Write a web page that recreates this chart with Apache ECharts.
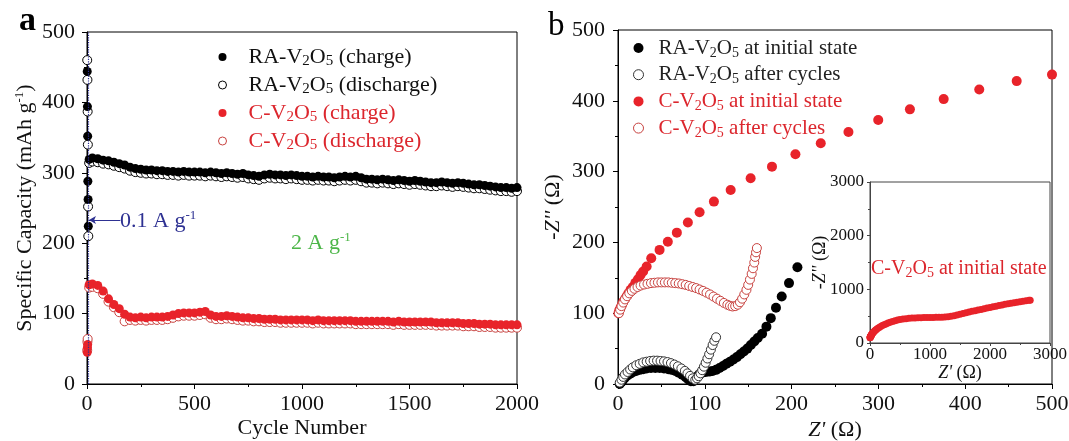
<!DOCTYPE html>
<html>
<head>
<meta charset="utf-8">
<script src="https://cdn.jsdelivr.net/npm/echarts@6/dist/echarts.min.js"></script>
<style>
  html, body { margin: 0; padding: 0; background: #fff; }
  #chart { width: 1069px; height: 441px; }
</style>
</head>
<body>
<div id="chart"></div>
<script>
// ---------- Panel a: cycling at 2 A g-1 (after 0.1 A g-1 activation) ----------
const cycleNumbers = [
  10, 25, 50, 75, 100, 125, 150, 175, 200, 225,
  250, 275, 300, 325, 350, 375, 400, 425, 450, 475,
  500, 525, 550, 575, 600, 625, 650, 675, 700, 725,
  750, 775, 800, 825, 850, 875, 900, 925, 950, 975,
  1000, 1025, 1050, 1075, 1100, 1125, 1150, 1175, 1200, 1225,
  1250, 1275, 1300, 1325, 1350, 1375, 1400, 1425, 1450, 1475,
  1500, 1525, 1550, 1575, 1600, 1625, 1650, 1675, 1700, 1725,
  1750, 1775, 1800, 1825, 1850, 1875, 1900, 1925, 1950, 1975,
  2000
];
const raCharge = [
  319, 321, 320, 318, 317, 315, 313, 311, 308, 306,
  305, 304, 304, 303, 303, 302, 302, 301, 302, 301,
  301, 301, 300, 301, 300, 299, 300, 299, 298, 299,
  297, 296, 295, 297, 298, 297, 297, 296, 297, 296,
  295, 295, 294, 295, 294, 294, 293, 294, 295, 294,
  295, 293, 291, 291, 290, 291, 290, 289, 290, 289,
  288, 289, 288, 287, 286, 286, 287, 286, 285, 286,
  285, 284, 283, 283, 282, 281, 280, 279, 279, 278,
  279
];
const raDischarge = [
  314, 316, 315, 313, 312, 310, 308, 306, 303, 301,
  300, 299, 299, 298, 298, 297, 297, 296, 297, 296,
  296, 296, 295, 296, 295, 294, 295, 294, 293, 294,
  292, 291, 290, 292, 293, 292, 292, 291, 292, 291,
  290, 290, 289, 290, 289, 289, 288, 289, 290, 289,
  290, 288, 286, 286, 285, 286, 285, 284, 285, 284,
  283, 284, 283, 282, 281, 281, 282, 281, 280, 281,
  280, 279, 278, 278, 277, 276, 275, 274, 274, 273,
  274
];
const cCharge = [
  141, 142, 140, 132, 121, 113, 107, 99, 95, 94,
  95, 94, 95, 95, 95, 96, 98, 100, 101, 101,
  101, 102, 103, 98, 96, 96, 97, 96, 95, 94,
  94, 93, 93, 92, 92, 92, 91, 91, 91, 91,
  91, 91, 90, 91, 90, 90, 90, 90, 90, 90,
  89, 89, 89, 89, 89, 89, 89, 88, 89, 88,
  88, 88, 88, 88, 88, 87, 87, 87, 87, 87,
  86, 86, 86, 85, 85, 85, 84, 84, 84, 84,
  84
];
const cDischarge = [
  137, 138, 136, 128, 117, 109, 102, 89, 91, 90,
  91, 90, 91, 91, 91, 92, 94, 96, 97, 97,
  97, 98, 99, 94, 92, 92, 93, 92, 91, 90,
  90, 89, 89, 88, 88, 88, 87, 87, 87, 87,
  87, 87, 86, 87, 86, 86, 86, 86, 86, 86,
  85, 85, 85, 85, 85, 85, 85, 84, 85, 84,
  84, 84, 84, 84, 84, 83, 83, 83, 83, 83,
  82, 82, 82, 81, 81, 81, 80, 80, 80, 80,
  80
];
// first cycles at 0.1 A g-1
const activationCycles = [1, 2, 3, 4, 5, 6];
const raChargeActivation = [444, 394, 352, 288, 262, 224];
const raDischargeActivation = [460, 432, 387, 340, 252, 210];
const cChargeActivation = [45, 52, 56];
const cDischargeActivation = [48, 60, 64];

// ---------- Panel b: Nyquist plots (Z', -Z'') ----------
const raInitial = [
  [2, 0], [4, 3], [6, 6], [8, 9], [11, 12], [14, 14.5], [17, 16.5], [21, 18.5], [25, 20], [29, 21],
  [33, 22], [38, 22.5], [43, 22.5], [48, 22.5], [53, 22], [58, 21], [62, 20], [66, 18.5], [70, 16], [74, 13],
  [78, 9.5], [81, 6.5], [84, 4], [87, 4], [89, 7], [91, 10.5], [94, 14], [97, 16], [101, 17], [105, 17.5],
  [109, 18.5], [113, 20], [117, 22.5], [121, 25.5], [125, 28.5], [129, 31.5], [133, 34.5], [137, 38], [141, 42], [145, 46],
  [149, 50], [153, 55], [157, 60], [161, 65], [166, 71], [171, 81], [176, 93], [182, 107.6], [188.6, 123.6], [197, 142.5],
  [206.7, 165]
];
const raAfter = [
  [2, 2], [4, 6], [6, 10], [8, 13.5], [11, 17], [14, 20.5], [17, 23.5], [21, 26.5], [25, 28.5], [29, 30.5],
  [33, 31.5], [37, 32.5], [41, 33], [45, 33], [49, 32.5], [53, 32], [57, 31], [61, 29.5], [65, 27.5], [69, 25],
  [73, 22], [77, 18.5], [80, 15], [83, 11.5], [86, 8], [89, 6], [91, 8], [93, 11], [95, 15], [97, 19.5],
  [99, 24.5], [101, 30], [103, 36], [105, 42], [107, 48.5], [109, 55], [111, 61], [113, 66]
];
const cInitial = [
  [0.5, 100], [1.5, 104], [3, 108], [4.5, 112], [6, 116], [8, 120], [10, 124], [12, 128], [14.5, 133], [17, 137],
  [20, 143], [23, 148], [26, 154], [29, 159], [33, 166], [38.3, 177.7], [47.9, 189.4], [57.4, 201], [67.8, 213.8], [80.5, 228],
  [94, 242.6], [110.5, 257.6], [129.8, 274], [152.8, 290.6], [177.4, 307], [204.4, 324.4], [233.6, 340], [265.5, 356], [299.8, 372.8], [336.3, 387.9],
  [375.2, 402.4], [416.2, 416], [459.3, 427.8],
  [500, 437], [550, 446], [600, 453], [650, 459], [700, 464], [750, 467], [800, 470], [850, 472], [900, 474], [950, 475],
  [1000, 476], [1050, 477], [1100, 478], [1150, 479], [1200, 481], [1250, 484], [1300, 489], [1350, 498], [1400, 510], [1450, 523],
  [1500, 537], [1550, 551], [1600, 564], [1650, 577], [1700, 590], [1750, 602], [1800, 614], [1850, 626], [1900, 638], [1950, 650],
  [2000, 662], [2050, 674], [2100, 686], [2150, 698], [2200, 709], [2250, 720], [2300, 731], [2350, 741], [2400, 751], [2450, 761],
  [2500, 770], [2550, 779], [2600, 787], [2650, 795], [2670, 798]
];
const cAfter = [
  [1, 100], [2.5, 105], [4, 110], [6, 115], [8, 119.5], [10.5, 124], [13, 128], [16, 131.5], [19, 134.5], [22.5, 137],
  [26, 139], [30, 140.5], [34, 141.5], [38, 142.5], [42, 143], [46, 143.5], [50, 143.5], [54, 143.5], [58, 143.5], [62, 143],
  [66, 142.5], [70, 142], [74, 141], [78, 140], [82, 138.5], [86, 137], [90, 135.5], [94, 133.5], [98, 131.5], [102, 129],
  [106, 126.5], [110, 123.5], [114, 120.5], [118, 117.5], [122, 114.5], [126, 112], [129, 110.5], [132, 109.5], [135, 110], [138, 112],
  [140.5, 115.5], [143, 120.5], [145.5, 126.5], [148, 133], [150, 140], [152, 147.5], [154, 155.5], [155.5, 163.5], [157, 171.5], [158, 179.5],
  [159, 186], [160, 192]
];

// ---------- styling ----------
const FONT = 'Liberation Serif';
const INK = '#111';
const RED = '#e8232a';
const RED_OPEN = '#c8423f';
const RED_TEXT = '#dc262d';
const BLUE = '#2e3192';
const GREEN = '#4cb648';

function pairs(xs, ys) { return xs.map((x, i) => [x, ys[i]]); }

const raChargeData = pairs(activationCycles, raChargeActivation).concat(pairs(cycleNumbers, raCharge));
const raDischargeData = pairs(activationCycles, raDischargeActivation).concat(pairs(cycleNumbers, raDischarge));
const cChargeData = pairs(activationCycles.slice(0, 3), cChargeActivation).concat(pairs(cycleNumbers, cCharge));
const cDischargeData = pairs(activationCycles.slice(0, 3), cDischargeActivation).concat(pairs(cycleNumbers, cDischarge));

function richSet(size) {
  const sub = Math.round(size * 0.68);
  const sup = Math.round(size * 0.6);
  return {
    s: { fontFamily: FONT, fontSize: sub, verticalAlign: 'bottom', lineHeight: sub + 8 },
    sup: { fontFamily: FONT, fontSize: sup, verticalAlign: 'top', lineHeight: sup },
    i: { fontFamily: FONT, fontSize: size, fontStyle: 'italic' }
  };
}
const chem = n => n.replace('V2O5', 'V{s|2}O{s|5}');
const plain = v => String(v);

function valueAxis(opts) {
  const fs = opts.fontSize || 22;
  return Object.assign({
    type: 'value',
    axisLine: { show: true, onZero: false, lineStyle: { color: '#000', width: 1 } },
    axisTick: { show: true, inside: false, length: 5, lineStyle: { color: '#000', width: 1 } },
    minorTick: { show: true, splitNumber: 2, length: 3, lineStyle: { color: '#000', width: 1 } },
    splitLine: { show: false },
    minorSplitLine: { show: false },
    nameLocation: 'middle',
    nameMoveOverlap: false,
    nameTextStyle: { color: INK, fontFamily: FONT, fontSize: fs, lineHeight: fs + 2, rich: richSet(fs) }
  }, opts.extra);
}
function tickLabels(fs, margin) {
  return { color: INK, fontFamily: FONT, fontSize: fs, margin: margin, formatter: plain };
}
const insetLine = {
  axisLine: { show: true, onZero: false, lineStyle: { color: '#444', width: 1 } },
  axisTick: { show: true, inside: false, length: 3, lineStyle: { color: '#444' } },
  minorTick: { show: true, splitNumber: 2, length: 2, lineStyle: { color: '#444' } },
  nameTextStyle: { color: INK, fontFamily: FONT, fontSize: 18, lineHeight: 20, rich: richSet(18) }
};

const noEmph = { disabled: true };
function dots(name, xi, data, size, fill, stroke, extra) {
  const style = stroke ? { color: fill, borderColor: stroke, borderWidth: 1, opacity: 1 } : { color: fill, opacity: 1 };
  return Object.assign({
    type: 'scatter', name: name, xAxisIndex: xi, yAxisIndex: xi, data: data,
    symbol: 'circle', symbolSize: size, itemStyle: style,
    emphasis: noEmph, silent: true, clip: true, large: false
  }, extra || {});
}

const option = {
  animation: false,
  backgroundColor: '#fff',
  textStyle: { fontFamily: FONT },
  grid: [
    { left: 87, top: 32, width: 430, height: 352, show: true, borderColor: '#000', borderWidth: 1, backgroundColor: 'transparent', outerBoundsMode: 'none', containLabel: false },
    { left: 618, top: 30, width: 434, height: 354, show: true, borderColor: '#000', borderWidth: 1, backgroundColor: 'transparent', outerBoundsMode: 'none', containLabel: false },
    { left: 870, top: 182, width: 180, height: 161, show: true, borderColor: '#444', borderWidth: 1, backgroundColor: '#fff', outerBoundsMode: 'none', containLabel: false, z: 5 }
  ],
  xAxis: [
    valueAxis({ extra: { gridIndex: 0, min: 0, max: 2000, interval: 500, name: 'Cycle Number', nameGap: 32, axisLabel: tickLabels(22, 9) } }),
    valueAxis({ extra: { gridIndex: 1, min: 0, max: 500, interval: 100, name: '{i|Z\'} (Ω)', nameGap: 34, axisLabel: tickLabels(22, 9) } }),
    valueAxis({ fontSize: 17, extra: Object.assign({ gridIndex: 2, min: 0, max: 3000, interval: 1000, name: '{i|Z\'} (Ω)', nameGap: 20, z: 6,
      axisLabel: tickLabels(17, 3) }, insetLine) })
  ],
  yAxis: [
    valueAxis({ extra: { gridIndex: 0, min: 0, max: 500, interval: 100, name: 'Specific Capacity (mAh g{sup|-1})', nameGap: 50, axisLabel: tickLabels(22, 12) } }),
    valueAxis({ extra: { gridIndex: 1, min: 0, max: 500, interval: 100, name: '-{i|Z\'\'} (Ω)', nameGap: 53, axisLabel: tickLabels(22, 13) } }),
    valueAxis({ fontSize: 17, extra: Object.assign({ gridIndex: 2, min: 0, max: 3000, interval: 1000, name: '-{i|Z\'\'} (Ω)', nameGap: 40, z: 6,
      axisLabel: tickLabels(17, 6) }, insetLine) })
  ],
  legend: [
    {
      selectedMode: false, orient: 'vertical', left: 213, top: 40,
      itemWidth: 8, itemHeight: 8, itemGap: 4,
      textStyle: { color: INK, fontFamily: FONT, fontSize: 22, lineHeight: 24, padding: [0, 0, 0, 17], rich: richSet(22) },
      formatter: chem,
      data: [
        { name: 'RA-V2O5 (charge)', icon: 'circle', itemStyle: { color: '#000', borderWidth: 0, opacity: 1 } },
        { name: 'RA-V2O5 (discharge)', icon: 'circle', itemStyle: { color: '#fff', borderColor: '#000', borderWidth: 1, opacity: 1 } },
        { name: 'C-V2O5 (charge)', icon: 'circle', itemStyle: { color: RED, borderWidth: 0, opacity: 1 }, textStyle: { color: RED_TEXT } },
        { name: 'C-V2O5 (discharge)', icon: 'circle', itemStyle: { color: '#fff', borderColor: RED_OPEN, borderWidth: 1, opacity: 1 }, textStyle: { color: RED_TEXT } }
      ]
    },
    {
      selectedMode: false, orient: 'vertical', left: 628, top: 31,
      itemWidth: 10, itemHeight: 10, itemGap: 2.7,
      textStyle: { color: '#222', fontFamily: FONT, fontSize: 21, lineHeight: 24, padding: [0, 0, 0, 10], rich: richSet(21) },
      formatter: chem,
      data: [
        { name: 'RA-V2O5 at initial state', icon: 'circle', itemStyle: { color: '#000', borderWidth: 0, opacity: 1 } },
        { name: 'RA-V2O5 after cycles', icon: 'circle', itemStyle: { color: '#fff', borderColor: '#333', borderWidth: 1, opacity: 1 } },
        { name: 'C-V2O5 at initial state', icon: 'circle', itemStyle: { color: RED, borderWidth: 0, opacity: 1 }, textStyle: { color: RED_TEXT } },
        { name: 'C-V2O5 after cycles', icon: 'circle', itemStyle: { color: '#fff', borderColor: RED_OPEN, borderWidth: 1, opacity: 1 }, textStyle: { color: RED_TEXT } }
      ]
    }
  ],
  series: [
    // panel a: discharge first, charge drawn over it
    dots('RA-V2O5 (discharge)', 0, raDischargeData, 9, '#fff', '#000', {
      markLine: {
        silent: true, symbol: 'none', label: { show: false }, emphasis: noEmph, animation: false,
        lineStyle: { color: BLUE, type: 'dotted', width: 1.2 },
        data: [{ xAxis: 6 }]
      }
    }),
    dots('RA-V2O5 (charge)', 0, raChargeData, 9, '#000', null, {
      markLine: {
        silent: true, symbol: ['none', 'arrow'], symbolSize: [6, 7], label: { show: false }, emphasis: noEmph, animation: false,
        lineStyle: { color: BLUE, type: 'solid', width: 1.2 },
        data: [[{ coord: [155, 233] }, { coord: [9, 233] }]]
      }
    }),
    dots('C-V2O5 (discharge)', 0, cDischargeData, 9, '#fff', RED_OPEN),
    dots('C-V2O5 (charge)', 0, cChargeData, 9, RED, null),
    // panel b
    dots('RA-V2O5 at initial state', 1, raInitial, 10, '#000', null),
    dots('RA-V2O5 after cycles', 1, raAfter, 9, '#fff', '#333'),
    dots('C-V2O5 at initial state', 1, cInitial, 10, RED, null),
    dots('C-V2O5 after cycles', 1, cAfter, 9, '#fff', RED_OPEN),
    // inset: full-range spectrum of the initial C-V2O5 electrode
    dots('inset C-V2O5', 2, cInitial, 7, RED, null, { z: 7 })
  ],
  graphic: [
    { type: 'text', x: 19, y: 21, z: 10, style: { text: 'a', fill: '#000', fontFamily: FONT, fontSize: 34, fontWeight: 'bold', verticalAlign: 'middle', align: 'left' } },
    { type: 'text', x: 548, y: 26, z: 10, style: { text: 'b', fill: '#000', fontFamily: FONT, fontSize: 33, verticalAlign: 'middle', align: 'left' } },
    { type: 'text', x: 120, y: 221, z: 10, style: { text: '0.1 A g{sup|-1}', fill: BLUE, fontFamily: FONT, fontSize: 22, lineHeight: 24, verticalAlign: 'middle', align: 'left', rich: richSet(22) } },
    { type: 'text', x: 291, y: 243, z: 10, style: { text: '2 A g{sup|-1}', fill: GREEN, fontFamily: FONT, fontSize: 22, lineHeight: 24, verticalAlign: 'middle', align: 'left', rich: richSet(22) } },
    { type: 'text', x: 871, y: 269, z: 10, style: { text: chem('C-V2O5 at initial state'), fill: RED_TEXT, fontFamily: FONT, fontSize: 20, lineHeight: 22, verticalAlign: 'middle', align: 'left', rich: richSet(20) } }
  ]
};

const chart = echarts.init(document.getElementById('chart'), null, { renderer: 'canvas' });
chart.setOption(option);
</script>
</body>
</html>
